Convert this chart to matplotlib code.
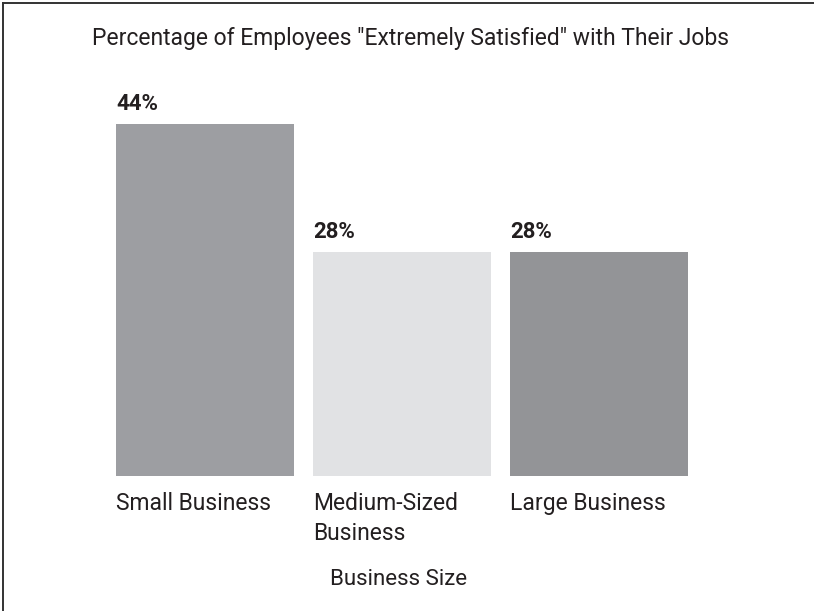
import numpy as np
import matplotlib
matplotlib.use('Agg')
from matplotlib import pyplot as plt
from matplotlib.lines import Line2D

matplotlib.rcParams['font.family'] = ['Roboto', 'DejaVu Sans']

categories = ['Small Business', 'Medium-Sized\nBusiness', 'Large Business']
values = [44, 28, 28]
labels = ['44%', '28%', '28%']
colors = ['#9d9ea2', '#e1e2e4', '#939497']
title = 'Percentage of Employees "Extremely Satisfied" with Their Jobs'
xlabel = 'Business Size'

W, H = 814, 611
txt = '#231f20'
px = 72 / 100  # points per pixel at dpi 100
fig = plt.figure(figsize=(W / 100, H / 100), dpi=100)

# axes box sits exactly on the bar area (pixel coords converted to fractions)
ax = fig.add_axes([116 / W, (H - 476) / H, 572 / W, 352 / H])
w = 178 / 197
x = np.arange(len(values))
ax.bar(x, values, width=w, color=colors)
ax.set_xlim(-w / 2, len(values) - 1 + w / 2)
ax.set_ylim(0, max(values))
ax.axis('off')

for xi, v, lab in zip(x, values, labels):
    ax.annotate(lab, (xi - w / 2, v), xytext=(0, 14 * px), textcoords='offset points',
                ha='left', va='baseline', fontsize=16, fontweight='bold', color=txt)

for xi, cat in zip(x, categories):
    ax.annotate(cat, (xi - w / 2, 0), xytext=(0, -16 * px), textcoords='offset points',
                ha='left', va='top', fontsize=16.5, color=txt, linespacing=1.4)

fig.text(92 / W, 1 - 45 / H, title, ha='left', va='baseline', fontsize=16.5, color=txt)
fig.text(399 / W, 1 - 585 / H, xlabel, ha='center', va='baseline', fontsize=16, color=txt)

# frame lines on the top and left edges only
fig.add_artist(Line2D([3 / W, 1], [1 - 2.5 / H, 1 - 2.5 / H], color='#333333', lw=1.4))
fig.add_artist(Line2D([3 / W, 3 / W], [0, 1 - 2.5 / H], color='#333333', lw=1.4))

fig.savefig('out.png', dpi=100)
